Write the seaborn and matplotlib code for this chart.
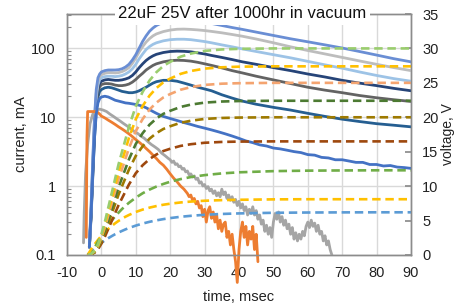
import matplotlib
matplotlib.use("Agg")
import matplotlib.pyplot as plt
import seaborn as sns
from matplotlib.ticker import FixedLocator, NullFormatter, LogLocator

sns.set_theme(style="white")
plt.rcParams['font.family'] = ['Liberation Sans', 'DejaVu Sans']

TITLE = "22uF 25V after 1000hr in vacuum"
X_LABEL = "time, msec"
Y_LABEL = "current, mA"
Y2_LABEL = "voltage, V"
X_TICKS = [-10, 0, 10, 20, 30, 40, 50, 60, 70, 80, 90]
Y_TICKS = [0.1, 1, 10, 100]
Y_TICK_LABELS = ["0.1", "1", "10", "100"]
V_TICKS = [0, 5, 10, 15, 20, 25, 30, 35]

# ---------------- current (mA), smooth traces ----------------
T_SMOOTH = [-3.5, -3, -2.5, -2, -1.5, -1, -0.5,
            0, 1, 2, 3, 4, 5, 6, 7, 8, 9, 10, 11, 12, 13, 14, 15, 16,
            18, 20, 22, 24, 26, 28, 30, 32,
            35, 38, 41, 45,
            50, 55, 60, 65, 70, 75, 80, 85, 90]
I_TOP_BLUE = [0.13, 0.5, 2.5, 10, 25, 37, 42,
              45, 47, 48, 48, 48, 48.5, 50, 53, 58, 67, 80, 100, 125, 150, 175, 195, 212,
              238, 252, 258, 258, 254, 246, 237, 227,
              212, 198, 186, 170,
              152, 136, 123, 111, 100, 89, 79, 70, 63]
I_LIGHT_GRAY = [0.13, 0.5, 2.2, 9, 22, 33, 39,
                41, 43, 44, 44, 43.5, 44, 45.5, 48, 52, 60, 72, 88, 105, 122, 137, 150, 160,
                173, 182, 187, 188, 186, 183, 179, 174,
                166, 157, 148, 135,
                119, 104, 92, 82, 73, 65, 58, 52, 47]
I_LIGHT_BLUE = [0.13, 0.45, 2, 8, 19, 29, 35,
                37, 38.5, 39, 39, 38.5, 39, 40, 42, 45, 50, 58, 70, 82, 95, 105, 113, 119,
                127, 132, 134, 134, 132, 128, 124, 119,
                111, 104, 97, 89,
                80, 72, 64, 57, 51, 45, 40, 36, 33]
I_NAVY = [0.13, 0.4, 1.8, 7, 17, 26, 31,
          33, 34.5, 35, 34.5, 34, 34, 34.5, 35.5, 37, 40, 45, 52, 59, 66, 72, 77, 81,
          86, 89, 90, 89.5, 88, 85, 82, 78,
          73, 68, 63, 58,
          52, 47, 42, 38, 34, 31, 28.5, 26, 24]
I_DARK_GRAY = [0.13, 0.38, 1.6, 6, 15, 23, 27.5,
               29.5, 30.5, 30.5, 30, 29, 28.5, 28.5, 29, 30, 32, 35, 39, 43, 48, 52, 56, 59,
               63, 65.5, 66.5, 66, 64.5, 62, 59, 56,
               51.5, 47, 43.5, 39,
               34.5, 30.5, 27, 24.5, 22.5, 20.5, 19, 17.8, 16.8]
I_TEAL = [0.13, 0.35, 1.4, 5, 12.5, 19.5, 23.5,
          25, 26.5, 27, 26.5, 25.5, 24.5, 23.5, 23, 22.5, 22.5, 23, 24, 25.5, 27, 29, 31, 32.5,
          34, 34, 33, 31, 29, 27, 25.5, 24,
          21, 18.8, 17, 15.3,
          13.8, 12.6, 11.3, 10.2, 9.3, 8.6, 8.0, 7.6, 7.2]

# ---------------- current (mA), noisy traces (time, value) ----------------
BLUE_NOISY = [(-3.5, 0.13), (-3, 0.4), (-2.5, 1.5), (-2, 5), (-1.5, 11), (-1, 16), (-0.5, 18.5),
              (0, 19.5), (1, 20), (2, 19.5), (3, 18.5), (4, 17.5), (5, 17), (6, 16.5), (7, 16),
              (8, 15.8), (9, 15.5), (10, 15.2), (11, 14.8), (12, 14.3), (13, 13.6), (14, 12.8),
              (15, 12), (16, 11.3), (17, 10.7), (18, 10.2), (20, 9.5), (22, 8.9), (24, 8.3),
              (26, 7.8), (28, 7.3), (30, 6.9), (32, 6.5), (34, 6.1), (36, 5.7), (38, 5.3),
              (40, 4.9), (42, 4.5), (44, 4.25), (46, 3.95), (48, 3.8), (50, 3.55), (52, 3.45),
              (54, 3.3), (56, 3.15), (58, 3.05), (60, 2.85), (62, 2.8), (64, 2.6), (66, 2.55),
              (68, 2.4), (70, 2.4), (72, 2.3), (74, 2.2), (76, 2.2), (78, 2.05), (80, 2.05),
              (82, 1.95), (84, 1.98), (86, 1.88), (88, 1.85), (90, 1.8)]
ORANGE_NOISY = [(-4.4, 0.18), (-4.2, 5), (-4.0, 12), (-3, 12), (-2, 12), (-1.2, 11.8), (-0.5, 11),
                (0, 10.3), (1, 9.7), (2, 9.0), (3, 8.4), (4, 7.8), (5, 7.2), (6, 6.7), (7, 6.2),
                (8, 5.7), (9, 5.2), (10, 4.7), (11, 4.3), (12, 3.9), (13, 3.5), (14, 3.15),
                (15, 2.8), (16, 2.5), (17, 2.2), (18, 2.0), (19, 1.75), (20, 1.5), (21, 1.3),
                (22, 1.15), (23, 1.0), (24, 0.9), (25, 0.78), (25.5, 0.7), (26, 0.74), (26.5, 0.62),
                (27, 0.66), (27.5, 0.55), (28, 0.6), (28.5, 0.48), (29, 0.52), (29.5, 0.36),
                (30, 0.46), (30.5, 0.3), (31, 0.44), (31.5, 0.5), (32, 0.34), (32.5, 0.42),
                (33, 0.3), (33.5, 0.38), (34, 0.24), (34.5, 0.32), (35, 0.22), (35.5, 0.28),
                (36, 0.3), (36.5, 0.18), (37, 0.22), (37.5, 0.14), (38, 0.2), (38.5, 0.12),
                (39, 0.08), (39.5, 0.04), (40, 0.12), (40.5, 0.22), (41, 0.3), (41.5, 0.18),
                (42, 0.26), (42.5, 0.14), (43, 0.22), (43.5, 0.17), (44, 0.26), (44.5, 0.12),
                (45, 0.2), (45.5, 0.08)]
GRAY_NOISY = [(-5.2, 0.15), (-5.0, 0.4), (-4.6, 1.5), (-4, 4), (-3.3, 8), (-2.5, 11), (-1.5, 12.5),
              (-0.5, 13), (0.5, 12.6), (1.5, 12), (2.5, 11), (3.5, 10.2), (4.5, 9.4), (5.5, 8.7),
              (6.5, 8), (7.5, 7.4), (8.5, 6.8), (9.5, 6.2), (10.5, 5.8), (11.5, 5.3), (12.5, 4.9),
              (13.5, 4.4), (14.5, 4.0), (15.5, 3.7), (16.5, 3.4), (17.5, 3.0), (18.5, 2.75),
              (19.5, 2.5), (20, 2.4), (20.5, 2.2), (21, 2.3), (21.5, 2.05), (22, 2.1), (22.5, 1.9),
              (23, 1.95), (23.5, 1.75), (24, 1.8), (24.5, 1.6), (25, 1.65), (25.5, 1.45), (26, 1.5),
              (26.5, 1.35), (27, 1.4), (27.5, 1.25), (28, 1.3), (28.5, 1.1), (29, 1.15), (29.5, 1.0),
              (30, 1.05), (30.5, 0.92), (31, 0.98), (31.5, 0.85), (32, 0.9), (32.5, 0.78),
              (33, 0.85), (33.5, 0.72), (34, 0.8), (34.5, 0.7), (35, 0.9), (35.5, 0.75), (36, 0.82),
              (36.5, 0.66), (37, 0.74), (37.5, 0.62), (38, 0.7), (38.5, 0.58), (39, 0.64),
              (39.5, 0.52), (40, 0.6), (40.5, 0.48), (41, 0.55), (41.5, 0.44), (42, 0.5),
              (42.5, 0.38), (43, 0.46), (43.5, 0.4), (44, 0.5), (44.5, 0.38), (45, 0.44),
              (45.5, 0.33), (46, 0.38), (46.5, 0.28), (47, 0.32), (47.5, 0.22), (48, 0.27),
              (48.5, 0.2), (49, 0.25), (49.5, 0.18), (50, 0.3), (50.5, 0.4), (51, 0.33),
              (51.5, 0.42), (52, 0.3), (52.5, 0.36), (53, 0.27), (53.5, 0.32), (54, 0.24),
              (54.5, 0.28), (55, 0.2), (55.5, 0.25), (56, 0.17), (56.5, 0.21), (57, 0.16),
              (57.5, 0.2), (58, 0.17), (58.5, 0.22), (59, 0.19), (59.5, 0.26), (60, 0.3),
              (60.5, 0.25), (61, 0.32), (61.5, 0.26), (62, 0.29), (62.5, 0.22), (63, 0.27),
              (63.5, 0.2), (64, 0.22), (64.5, 0.16), (65, 0.19), (65.5, 0.14), (66, 0.16),
              (66.5, 0.12), (67, 0.1)]

# ---------------- voltage (V) traces ----------------
T_V = [-4, -3, -2, -1, 0, 1, 2, 3, 4, 5, 6, 7, 8, 10, 12, 14, 16, 18, 20, 23, 26, 30, 35, 40,
       50, 60, 70, 80, 90]
V_30 = [0, 0.15, 0.6, 1.5, 3.0, 4.8, 6.9, 9.0, 11.1, 13.2, 15.0, 16.8, 18.6, 21.6, 23.7, 25.35,
        26.55, 27.45, 28.05, 28.8, 29.25, 29.64, 29.85, 29.94, 30, 30, 30, 30, 30]
V_27 = [0, 0.14, 0.55, 1.37, 2.74, 4.38, 6.30, 8.22, 10.14, 12.06, 13.70, 15.34, 16.99, 19.73,
        21.65, 23.15, 24.25, 25.07, 25.62, 26.30, 26.72, 27.07, 27.26, 27.35, 27.4, 27.4, 27.4,
        27.4, 27.4]
V_25 = [0, 0.13, 0.5, 1.25, 2.5, 4.0, 5.75, 7.5, 9.25, 11.0, 12.5, 14.0, 15.5, 18.0, 19.75, 21.13,
        22.13, 22.88, 23.38, 24.0, 24.38, 24.7, 24.88, 24.95, 25, 25, 25, 25, 25]
V_22 = [0, 0.11, 0.45, 1.12, 2.24, 3.58, 5.15, 6.72, 8.29, 9.86, 11.2, 12.54, 13.89, 16.13, 17.7,
        18.93, 19.82, 20.5, 20.94, 21.5, 21.84, 22.13, 22.29, 22.36, 22.4, 22.4, 22.4, 22.4, 22.4]
V_20 = [0, 0.1, 0.4, 1.0, 2.0, 3.2, 4.6, 6.0, 7.4, 8.8, 10.0, 11.2, 12.4, 14.4, 15.8, 16.9, 17.7,
        18.3, 18.7, 19.2, 19.5, 19.76, 19.9, 19.96, 20, 20, 20, 20, 20]
V_16 = [0, 0.08, 0.33, 0.83, 1.65, 2.64, 3.8, 4.95, 6.1, 7.26, 8.25, 9.24, 10.23, 11.88, 13.04,
        13.94, 14.6, 15.1, 15.43, 15.84, 16.09, 16.3, 16.42, 16.47, 16.5, 16.5, 16.5, 16.5, 16.5]
V_12 = [0, 0, 1.03, 1.96, 2.83, 3.62, 4.34, 5.01, 5.61, 6.16, 6.68, 7.15, 7.58, 8.33, 8.97, 9.50,
        9.94, 10.32, 10.64, 11.02, 11.32, 11.60, 11.85, 12.01, 12.18, 12.25, 12.28, 12.3, 12.3]
V_8 = [0, 0.81, 1.54, 2.19, 2.79, 3.31, 3.79, 4.22, 4.61, 4.96, 5.27, 5.56, 5.81, 6.25, 6.60,
       6.88, 7.11, 7.30, 7.45, 7.63, 7.76, 7.88, 7.97, 8.02, 8.08, 8.1, 8.1, 8.1, 8.1]
V_6 = [0, 0.50, 0.95, 1.37, 1.76, 2.12, 2.44, 2.74, 3.02, 3.27, 3.50, 3.72, 3.92, 4.27, 4.57,
       4.82, 5.03, 5.21, 5.36, 5.55, 5.69, 5.84, 5.96, 6.04, 6.13, 6.17, 6.19, 6.2, 6.2]

# ---------------- figure ----------------
W, H = 455, 306
fig = plt.figure(figsize=(W / 100, H / 100), dpi=100)
ax = fig.add_axes([67 / W, 51 / H, 344 / W, 241 / H])
ax.set_yscale("log")
ax.set_xlim(-10, 90)
ax.set_ylim(0.1, 311)

GRID = "#D9D9D9"
SPINE = "#8C8C8C"
TXT = "#222222"
LW = 2.0

smooth = [
    (I_TEAL, "#255E91"),
    (I_DARK_GRAY, "#636363"),
    (I_NAVY, "#264478"),
    (I_LIGHT_BLUE, "#9DC3E6"),
    (I_LIGHT_GRAY, "#BDBDBD"),
    (I_TOP_BLUE, "#6A8ED4"),
]
for vals, col in smooth:
    sns.lineplot(x=T_SMOOTH, y=vals, ax=ax, color=col, lw=LW, estimator=None, sort=False,
                 zorder=3)

for pairs, col, clip in [(GRAY_NOISY, "#A5A5A5", True), (ORANGE_NOISY, "#ED7D31", False),
                         (BLUE_NOISY, "#4472C4", True)]:
    xs = [p[0] for p in pairs]
    ys = [p[1] for p in pairs]
    sns.lineplot(x=xs, y=ys, ax=ax, color=col, lw=LW, estimator=None, sort=False,
                 zorder=3, clip_on=clip)

ax.set_xticks(X_TICKS)
ax.set_xticklabels([str(v) for v in X_TICKS])
ax.yaxis.set_major_locator(FixedLocator(Y_TICKS))
ax.set_yticklabels(Y_TICK_LABELS)
ax.yaxis.set_minor_locator(LogLocator(base=10, subs=[2, 3, 4, 5, 6, 7, 8, 9]))
ax.yaxis.set_minor_formatter(NullFormatter())
ax.grid(True, which="major", color=GRID, lw=1.0)
ax.set_axisbelow(True)
ax.tick_params(axis="x", which="both", length=0, pad=8, labelsize=10.5, colors=TXT)
ax.tick_params(axis="y", which="major", length=0, pad=8, labelsize=10.5, colors=TXT)
ax.tick_params(axis="y", which="minor", direction="in", length=3, color=SPINE, width=0.8)
for s in ax.spines.values():
    s.set_color(SPINE)
    s.set_linewidth(1.0)
ax.set_xlabel(X_LABEL, fontsize=10.5, color=TXT)
ax.set_ylabel(Y_LABEL, fontsize=10.5, color=TXT)
ax.xaxis.set_label_coords(0.5, -0.145)
ax.yaxis.set_label_coords(-0.112, 0.5)

ax2 = ax.twinx()
ax2.set_ylim(0, 35)
volt = [
    (V_6, "#5B9BD5"),
    (V_8, "#FFC000"),
    (V_12, "#70AD47"),
    (V_16, "#9E480E"),
    (V_20, "#9E7A00"),
    (V_22, "#4C7A32"),
    (V_25, "#F4A470"),
    (V_27, "#FFC000"),
    (V_30, "#9ACD6E"),
]
for vals, col in volt:
    sns.lineplot(x=T_V, y=vals, ax=ax2, color=col, lw=1.9, estimator=None, sort=False,
                 linestyle=(0, (3.2, 1.8)))
ax2.set_xlim(-10, 90)
ax2.set_yticks(V_TICKS)
ax2.set_yticklabels([str(v) for v in V_TICKS])
ax2.tick_params(axis="y", direction="in", length=4, color=SPINE, pad=8, labelsize=10.5,
                colors=TXT)
for s in ax2.spines.values():
    s.set_color(SPINE)
    s.set_linewidth(1.0)
ax2.set_ylabel(Y2_LABEL, fontsize=10, color=TXT)
ax2.yaxis.set_label_coords(1.086, 0.5)
ax2.grid(False)

ax2.text(0.51, 1.0, TITLE, transform=ax2.transAxes, ha="center", va="center", fontsize=12,
         color="#111111", zorder=30,
         bbox=dict(facecolor="white", edgecolor="none", pad=2.5))

fig.savefig("out.png", dpi=100)
